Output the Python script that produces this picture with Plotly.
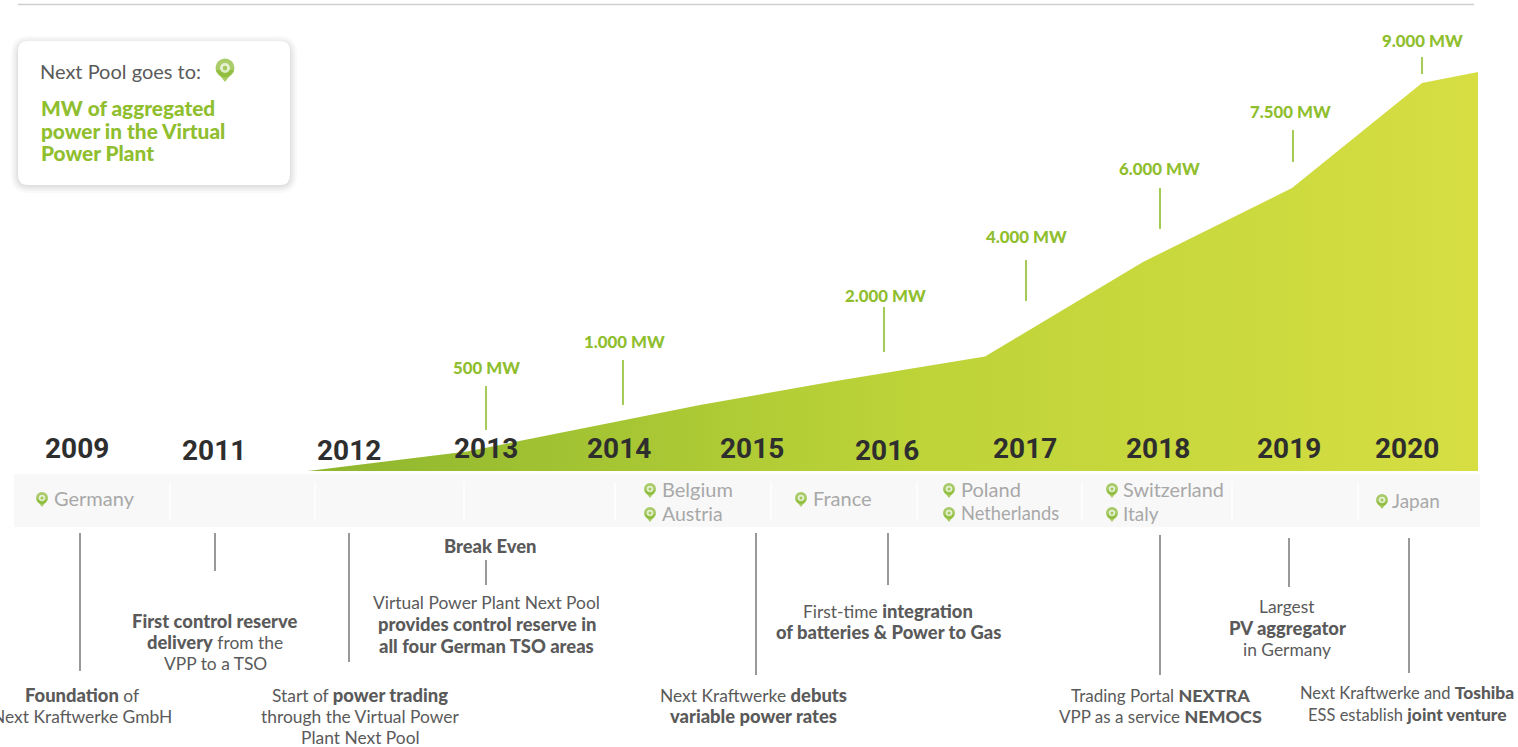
import plotly.graph_objects as go

# ---- data ----
area_x = [308, 467, 700, 833, 985, 1143, 1292, 1422, 1478]
area_height = [0, 19.5, 66, 89.5, 114.5, 209, 283, 388, 399]

mw_labels = ["500 MW", "1.000 MW", "2.000 MW", "4.000 MW", "6.000 MW", "7.500 MW", "9.000 MW"]
mw_label_x = [486, 624.5, 885, 1026, 1159, 1290, 1422]
mw_label_y = [367, 341, 295, 236, 168, 111, 40]
mw_tick_x = [486, 623, 884, 1026, 1160, 1293, 1422]
mw_tick_top = [386, 360, 307, 260, 188, 130, 57]
mw_tick_bottom = [430, 405, 352, 301, 229, 162, 74]

years = ["2009", "2011", "2012", "2013", "2014", "2015", "2016", "2017", "2018", "2019", "2020"]
year_x = [77, 214, 349, 486, 619, 752, 887, 1025, 1158, 1289, 1407]
year_y = [448, 450, 450, 448, 448, 448, 450, 448, 448, 448, 448]

countries = ["Germany", "Belgium", "Austria", "France", "Poland", "Netherlands", "Switzerland", "Italy", "Japan"]
country_x = [42, 650, 650, 801, 949, 949, 1112, 1112, 1382]
country_y = [498, 489, 513, 498, 489, 513, 489, 513, 500]
country_text_x = [52, 660, 660, 811, 959, 959, 1121, 1121, 1390]
country_size = [20, 20, 19.5, 20, 20, 18.3, 19.8, 19, 19]

band_separators = [170, 315, 464, 615, 771, 917, 1082, 1232, 1358]

event_text = [
    ["<b>Foundation</b> of", "Next Kraftwerke GmbH"],
    ["<b>First control reserve</b>", "<b>delivery</b> from the", "VPP to a TSO"],
    ["Start of <b>power trading</b>", "through the Virtual Power", "Plant Next Pool"],
    ["<b>Break Even</b>"],
    ["Virtual Power Plant Next Pool", "<b>provides control reserve in</b>", "<b>all four German TSO areas</b>"],
    ["Next Kraftwerke <b>debuts</b>", "<b>variable power rates</b>"],
    ["First-time <b>integration</b>", "<b>of batteries &amp; Power to Gas</b>"],
    ["Trading Portal <b>NEXTRA</b>", "VPP as a service <b>NEMOCS</b>"],
    ["Largest", "<b>PV aggregator</b>", "in Germany"],
    ["Next Kraftwerke and <b>Toshiba</b>", "ESS establish <b>joint venture</b>"],
]
event_x = [82, 215, 360, 490, 486.5, 753, 888, 1160, 1287, 1407]
event_first_y = [695, 621, 695, 546, 603, 695, 611, 695, 607, 693]
event_size = [17.4, 17.4, 17.4, 17.4, 17.4, 17.4, 17.4, 17, 17.4, 16.5]

event_line_x = [80, 215, 349, 486, 756, 888, 1160, 1289, 1409]
event_line_top = [533, 533, 533, 560, 533, 533, 535, 538, 538]
event_line_bottom = [671, 571, 662, 585, 675, 585, 675, 587, 673]

card_lines = ["MW of aggregated", "power in the Virtual", "Power Plant"]
card_line_y = [107, 130, 152]

# ---- layout constants ----
W, H = 1518, 747
BASE = 471
GREEN = "#8fbe2e"
PIN = "#86b82b"
DARK = "#2e2e2e"
BODY = "#5a5a5a"
FONT = "Lato"
LINE_STEP = 21.5


def heavy(t, size):
    return (t.replace("<b>", f'<span style="font-weight:900;font-size:{size}px">')
             .replace("</b>", "</span>"))


def segments(xs, tops, bottoms):
    sx, sy = [], []
    for x, a, b in zip(xs, tops, bottoms):
        sx += [x, x, None]
        sy += [a, b, None]
    return sx, sy


def rounded(x0, y0, x1, y1, r):
    return (f"M{x0+r},{y0} L{x1-r},{y0} Q{x1},{y0} {x1},{y0+r} L{x1},{y1-r} Q{x1},{y1} {x1-r},{y1} "
            f"L{x0+r},{y1} Q{x0},{y1} {x0},{y1-r} L{x0},{y0+r} Q{x0},{y0} {x0+r},{y0} Z")


fig = go.Figure()

shapes = [dict(type="rect", x0=14, x1=1480, y0=474, y1=527, fillcolor="#f8f8f8", line_width=0, layer="below")]
for x in band_separators:
    shapes.append(dict(type="line", x0=x, x1=x, y0=482, y1=520, line=dict(color="#ffffff", width=1.5), layer="below"))
shapes.append(dict(type="line", x0=18, x1=1474, y0=4.5, y1=4.5, line=dict(color="#cfcfcf", width=1.5), layer="below"))
for grow in [7, 5, 3.5, 2, 1]:
    shapes.append(dict(type="path", path=rounded(18 - grow, 43 - grow, 290 + grow, 186 + grow, 11 + grow),
                       fillcolor="rgba(0,0,0,0.022)", line_width=0, layer="below"))
shapes.append(dict(type="path", path=rounded(18, 41, 290, 185, 10), fillcolor="#ffffff", line_width=0, layer="below"))

fig.add_trace(go.Scatter(
    x=area_x + [area_x[-1], area_x[0]],
    y=[BASE - h for h in area_height] + [BASE, BASE],
    mode="lines", line=dict(width=0), fill="toself",
    fillgradient=dict(type="horizontal", colorscale=[[0, "#8db62e"], [0.5, "#bcd338"], [1, "#d6de42"]]),
    hoverinfo="skip", showlegend=False))

tx, ty = segments(mw_tick_x, mw_tick_top, mw_tick_bottom)
fig.add_trace(go.Scatter(x=tx, y=ty, mode="lines", line=dict(color=GREEN, width=1.6), hoverinfo="skip", showlegend=False))

ex, ey = segments(event_line_x, event_line_top, event_line_bottom)
fig.add_trace(go.Scatter(x=ex, y=ey, mode="lines", line=dict(color="#808080", width=1.6), hoverinfo="skip", showlegend=False))

# map pins: small ones in the band plus the larger one in the card
pin_x = country_x + [225]
for small_dy, small_size, big_y, big_size, sym, col in [
    (4, 10, 74, 16, "triangle-down", PIN),
    (0, 12, 68, 19, "circle", PIN),
    (0, 6.5, 68, 10, "circle", "#ffffff"),
    (0, 3, 68, 4.5, "circle", PIN),
]:
    fig.add_trace(go.Scatter(
        x=pin_x, y=[y + small_dy for y in country_y] + [big_y],
        mode="markers",
        marker=dict(symbol=sym, color=col, size=[small_size] * len(country_x) + [big_size], line_width=0),
        hoverinfo="skip", showlegend=False))

ann = []
for t, x, y in zip(mw_labels, mw_label_x, mw_label_y):
    ann.append(dict(x=x, y=y, text=heavy(f"<b>{t}</b>", 16.8), font=dict(family=FONT, size=16.8, color=GREEN)))
for t, x, y in zip(years, year_x, year_y):
    ann.append(dict(x=x, y=y, text=f"<b>{t}</b>", font=dict(family="Roboto", size=28, color=DARK)))
for t, x, y, s in zip(countries, country_text_x, country_y, country_size):
    ann.append(dict(x=x, y=y, text=t, xanchor="left", font=dict(family=FONT, size=s, color="#a8a8a8")))
for lines, x, y0, s in zip(event_text, event_x, event_first_y, event_size):
    for i, t in enumerate(lines):
        ann.append(dict(x=x, y=y0 + i * LINE_STEP - 0.5, text=heavy(t, round(s * 1.055, 1)),
                        font=dict(family=FONT, size=s, color=BODY)))
ann.append(dict(x=38, y=71, text="Next Pool goes to:", xanchor="left", font=dict(family=FONT, size=20, color=BODY)))
for t, y in zip(card_lines, card_line_y):
    ann.append(dict(x=39, y=y, text=heavy(f"<b>{t}</b>", 20.8), xanchor="left", font=dict(family=FONT, size=20.8, color=GREEN)))
for a in ann:
    a.update(showarrow=False, xref="x", yref="y")
    a.setdefault("xanchor", "center")
    a["yanchor"] = "middle"

fig.update_layout(
    width=W, height=H, margin=dict(l=0, r=0, t=0, b=0),
    paper_bgcolor="#ffffff", plot_bgcolor="#ffffff",
    xaxis=dict(range=[0, W], visible=False, fixedrange=True),
    yaxis=dict(range=[H, 0], visible=False, fixedrange=True),
    shapes=shapes, annotations=ann, showlegend=False, hovermode=False,
)
fig.write_html("out.html", config={"displayModeBar": False},
               post_script="document.body.style.margin='0';")
